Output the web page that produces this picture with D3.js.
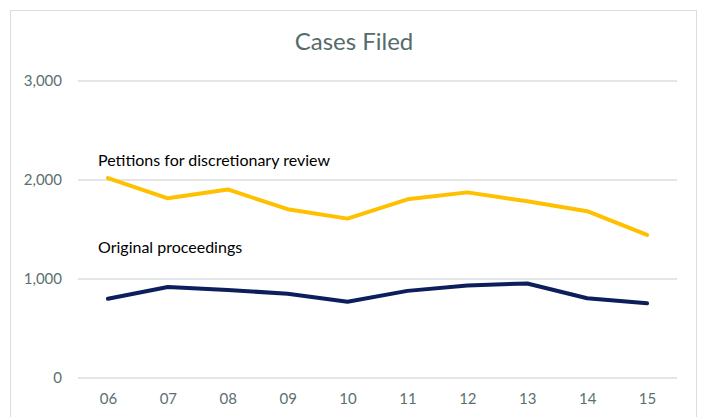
<!DOCTYPE html>
<meta charset="utf-8">
<script src="https://cdn.jsdelivr.net/npm/d3@7"></script>
<style>
body { margin: 0; background: #fff; }
text { font-family: Lato, "Open Sans", sans-serif; }
.axis text { fill: #5b7070; font-size: 15px; }
</style>
<body>
<script>

var years = ["06", "07", "08", "09", "10", "11", "12", "13", "14", "15"];
var petitions = [2020, 1815, 1905, 1705, 1610, 1805, 1875, 1785, 1685, 1445];
var original = [800, 920, 890, 850, 770, 880, 935, 955, 805, 755];
var yTicks = [0, 1000, 2000, 3000];

var width = 701,
    height = 417;

var svg = d3.select("body").append("svg")
    .attr("width", width)
    .attr("height", height);

// chart frame
svg.append("rect")
    .attr("x", 10.5).attr("y", 10.5)
    .attr("width", 686).attr("height", 420)
    .style("fill", "none")
    .style("stroke", "#d9dede")
    .style("stroke-width", 1);

var x = d3.scalePoint().domain(years).range([78, 677]).padding(0.5);
var y = d3.scaleLinear().domain([0, 3000]).range([378, 81]);

// gridlines
svg.append("g")
    .selectAll("line")
    .data(yTicks)
    .enter().append("line")
    .attr("x1", 78).attr("x2", 677)
    .attr("y1", function(d) { return y(d); })
    .attr("y2", function(d) { return y(d); })
    .style("stroke", "#d9dede")
    .style("stroke-width", 1.3);

var yAxis = svg.append("g")
    .attr("class", "axis")
    .attr("transform", "translate(62,0)")
    .call(d3.axisLeft(y).tickValues(yTicks).tickSize(0).tickPadding(0).tickFormat(d3.format(",")));
yAxis.select(".domain").remove();

var xAxis = svg.append("g")
    .attr("class", "axis")
    .attr("transform", "translate(0,390)")
    .call(d3.axisBottom(x).tickSize(0).tickPadding(0));
xAxis.select(".domain").remove();
xAxis.selectAll("text").attr("dy", "0.71em").attr("y", 3);

var line = d3.line()
    .x(function(d, i) { return x(years[i]); })
    .y(function(d) { return y(d); });

svg.append("path")
    .datum(petitions)
    .attr("d", line)
    .style("fill", "none")
    .style("stroke", "#ffc000")
    .style("stroke-width", 4)
    .style("stroke-linejoin", "round")
    .style("stroke-linecap", "round");

svg.append("path")
    .datum(original)
    .attr("d", line)
    .style("fill", "none")
    .style("stroke", "#0c1e5b")
    .style("stroke-width", 4)
    .style("stroke-linejoin", "round")
    .style("stroke-linecap", "round");

// title
svg.append("text")
    .attr("x", 354).attr("y", 50)
    .attr("text-anchor", "middle")
    .style("font-size", "24px")
    .style("fill", "#566b6b")
    .text("Cases Filed");

// series labels
svg.append("text")
    .attr("x", 98).attr("y", 166)
    .style("font-size", "16px")
    .style("fill", "#000")
    .text("Petitions for discretionary review");

svg.append("text")
    .attr("x", 98).attr("y", 253)
    .style("font-size", "16px")
    .style("fill", "#000")
    .text("Original proceedings");

</script>
</body>
